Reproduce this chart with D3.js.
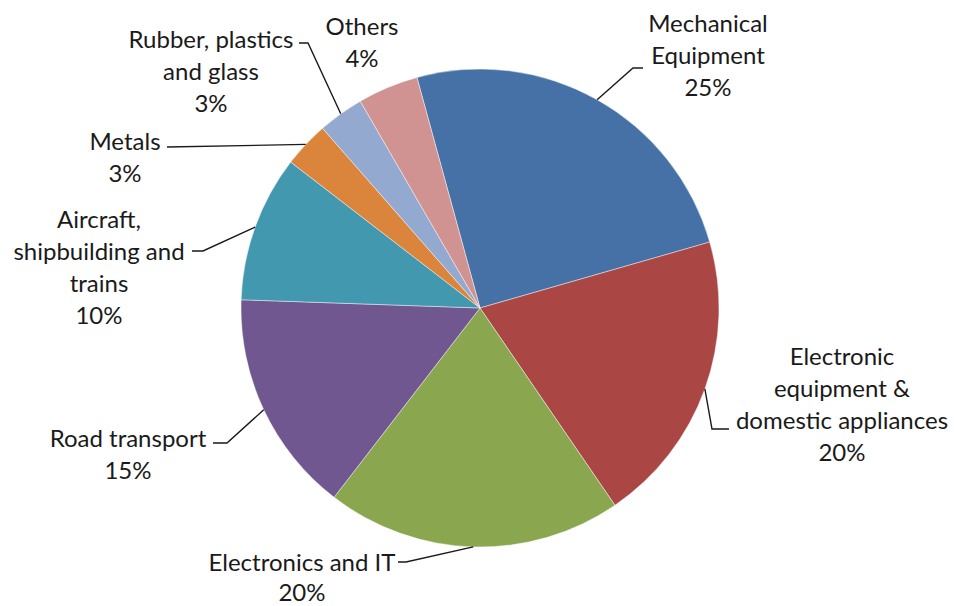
<!DOCTYPE html>
<html>
<head>
<meta charset="utf-8">
<script src="https://cdn.jsdelivr.net/npm/d3@7"></script>
<style>
  html, body { margin: 0; padding: 0; background: #ffffff; }
  svg { display: block; }
  text { font-family: Lato, "Open Sans", sans-serif; fill: #1a1a1a; }
</style>
</head>
<body>
<svg id="chart" width="954" height="606"></svg>
<script>
// ---- data ----
const categories = [
  "Mechanical Equipment",
  "Electronic equipment & domestic appliances",
  "Electronics and IT",
  "Road transport",
  "Aircraft, shipbuilding and trains",
  "Metals",
  "Rubber, plastics and glass",
  "Others"
];
const values = [24.8, 19.9, 20.0, 15.1, 9.9, 3.1, 3.1, 4.1];
const labelLines = [
  ["Mechanical", "Equipment"],
  ["Electronic", "equipment &", "domestic appliances"],
  ["Electronics and IT"],
  ["Road transport"],
  ["Aircraft,", "shipbuilding and", "trains"],
  ["Metals"],
  ["Rubber, plastics", "and glass"],
  ["Others"]
];
const colors = ["#4571A6", "#AA4644", "#8AA64F", "#71578F", "#4298AF", "#DA843C", "#94A9CF", "#D19391"];

// ---- layout (label placement, Excel-style) ----
const labelLayout = [
  { cx: 708, y: 22, end: [643, 68], bend: [633, 68] },
  { cx: 842, y: 355, end: [729, 429], bend: [712, 429] },
  { cx: 302, y: 561, end: [398, 562], bend: [406, 562] },
  { cx: 128, y: 437, end: [213, 443], bend: [227, 443] },
  { cx: 99,  y: 218, end: [192, 251], bend: [203, 251] },
  { cx: 125, y: 140, end: [167, 147], bend: [167, 147] },
  { cx: 211, y: 38,  end: [299, 43],  bend: [308, 43] },
  { cx: 362, y: 25,  end: null, bend: null }
];

const width = 954, height = 606;
const cx = 480, cy = 308, r = 239;
const lineH = 32.3;

const svg = d3.select("#chart");
const g = svg.append("g").attr("transform", `translate(${cx},${cy})`);

const data = categories.map((c, i) => ({ name: c, value: values[i], idx: i }));

const pie = d3.pie()
  .sort(null)
  .value(d => d.value)
  .startAngle(-15.3 * Math.PI / 180)
  .endAngle(-15.3 * Math.PI / 180 + 2 * Math.PI);

const arcs = pie(data);
const arc = d3.arc().innerRadius(0).outerRadius(r);
const color = d3.scaleOrdinal().domain(categories).range(colors);

g.selectAll("path.slice")
  .data(arcs)
  .join("path")
  .attr("class", "slice")
  .attr("d", arc)
  .attr("fill", d => color(d.data.name))
  .attr("stroke", "rgba(255,255,255,0.55)")
  .attr("stroke-width", 0.8);

// leader lines
const leaders = svg.append("g");
arcs.forEach((a, i) => {
  const L = labelLayout[i];
  if (!L.end) return;
  const mid = (a.startAngle + a.endAngle) / 2;
  const px = cx + r * Math.sin(mid), py = cy - r * Math.cos(mid);
  leaders.append("path")
    .attr("d", d3.line()([L.end, L.bend, [px, py]]))
    .attr("fill", "none")
    .attr("stroke", "#1a1a1a")
    .attr("stroke-width", 1.4);
});

// labels
const fmt = v => Math.round(v) + "%";
const labels = svg.append("g");
arcs.forEach((a, i) => {
  const L = labelLayout[i];
  const lines = labelLines[i].concat([fmt(a.data.value)]);
  const t = labels.append("text")
    .attr("text-anchor", "middle")
    .attr("font-size", 24);
  lines.forEach((s, k) => {
    t.append("tspan")
      .attr("x", L.cx)
      .attr("y", L.y + k * (i === 2 ? 30 : lineH))
      .attr("dominant-baseline", "central")
      .text(s);
  });
});
</script>
</body>
</html>
